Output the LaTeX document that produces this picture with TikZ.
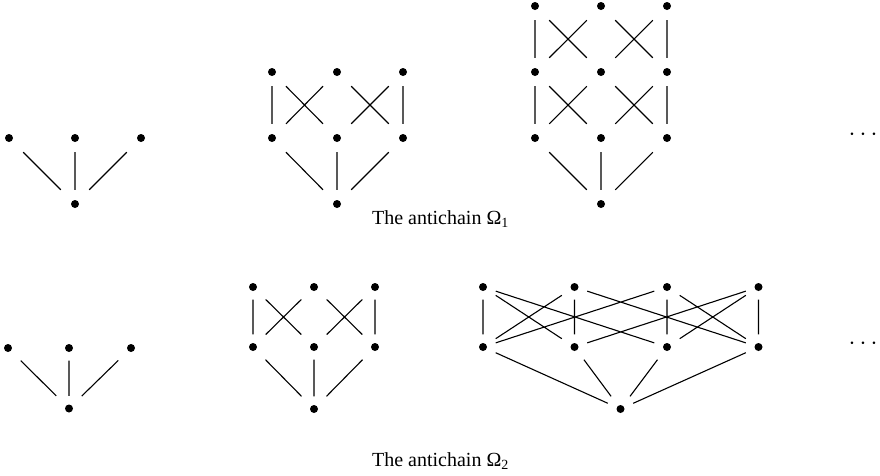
\documentclass[tikz,border=0pt]{standalone}
\usepackage{fontspec}
\setmainfont{Liberation Serif}
\begin{document}
\begin{tikzpicture}[x=1pt,y=-1pt,
  dotA/.style={rectangle,inner sep=0pt,minimum size=28pt,
    path picture={\fill[black] (path picture bounding box.center) circle (4pt);}},
  dotB/.style={rectangle,inner sep=0pt,minimum size=25pt,
    path picture={\fill[black] (path picture bounding box.center) circle (4pt);}},
  ln/.style={line width=1.1pt},
  captext/.style={anchor=base,font=\fontsize{20}{24}\selectfont},
  ell/.style={font=\fontsize{23}{26}\selectfont}]
\useasboundingbox (0,0) rectangle (880,475);
% ---------- top row ----------
% diagram 1
\node[dotA] (a0) at (75,204) {};
\node[dotA] (a1) at (9,138) {};
\node[dotA] (a2) at (75,138) {};
\node[dotA] (a3) at (141,138) {};
\draw[ln] (a0)--(a1) (a0)--(a2) (a0)--(a3);
% diagram 2
\node[dotA] (b0) at (337,204) {};
\node[dotA] (b11) at (272,138) {};
\node[dotA] (b12) at (337,138) {};
\node[dotA] (b13) at (403,138) {};
\node[dotA] (b21) at (272,72) {};
\node[dotA] (b22) at (337,72) {};
\node[dotA] (b23) at (403,72) {};
\draw[ln] (b0)--(b11) (b0)--(b12) (b0)--(b13)
  (b11)--(b21) (b13)--(b23)
  (b11)--(b22) (b12)--(b21) (b12)--(b23) (b13)--(b22);
% diagram 3
\node[dotA] (c0) at (601,204) {};
\node[dotA] (c11) at (535,138) {};
\node[dotA] (c12) at (601,138) {};
\node[dotA] (c13) at (667,138) {};
\node[dotA] (c21) at (535,72) {};
\node[dotA] (c22) at (601,72) {};
\node[dotA] (c23) at (667,72) {};
\node[dotA] (c31) at (535,6) {};
\node[dotA] (c32) at (601,6) {};
\node[dotA] (c33) at (667,6) {};
\draw[ln] (c0)--(c11) (c0)--(c12) (c0)--(c13)
  (c11)--(c21) (c13)--(c23)
  (c11)--(c22) (c12)--(c21) (c12)--(c23) (c13)--(c22)
  (c21)--(c31) (c23)--(c33)
  (c21)--(c32) (c22)--(c31) (c22)--(c33) (c23)--(c32);
\node[ell] (e1) at (863,135) {$\cdots$};
\node[captext] (t1) at (440.5,224.7) {The antichain Ω\textsubscript{1}};
% ---------- bottom row ----------
% diagram 1
\node[dotB] (d0) at (69,408.5) {};
\node[dotB] (d1) at (8,348) {};
\node[dotB] (d2) at (69,348) {};
\node[dotB] (d3) at (131,348) {};
\draw[ln] (d0)--(d1) (d0)--(d2) (d0)--(d3);
% diagram 2
\node[dotB] (g0) at (314,409) {};
\node[dotB] (g11) at (253,347) {};
\node[dotB] (g12) at (314,347) {};
\node[dotB] (g13) at (375,347) {};
\node[dotB] (g21) at (253,287) {};
\node[dotB] (g22) at (314,287) {};
\node[dotB] (g23) at (375,287) {};
\draw[ln] (g0)--(g11) (g0)--(g12) (g0)--(g13)
  (g11)--(g21) (g13)--(g23)
  (g11)--(g22) (g12)--(g21) (g12)--(g23) (g13)--(g22);
% diagram 3
\node[dotB] (f0) at (620.5,409) {};
\node[dotB] (m1) at (483,347) {};
\node[dotB] (m2) at (574.5,347) {};
\node[dotB] (m3) at (667,347) {};
\node[dotB] (m4) at (758.5,347) {};
\node[dotB] (u1) at (483,287) {};
\node[dotB] (u2) at (574.5,287) {};
\node[dotB] (u3) at (667,287) {};
\node[dotB] (u4) at (758.5,287) {};
\draw[ln] (f0)--(m1) (f0)--(m2) (f0)--(m3) (f0)--(m4)
  (u1)--(m1) (u1)--(m2) (u1)--(m3)
  (u2)--(m1) (u2)--(m2) (u2)--(m4)
  (u3)--(m1) (u3)--(m3) (u3)--(m4)
  (u4)--(m2) (u4)--(m3) (u4)--(m4);
\node[ell] (e2) at (863,344) {$\cdots$};
\node[captext] (t2) at (440.5,466) {The antichain Ω\textsubscript{2}};
\end{tikzpicture}
\end{document}
